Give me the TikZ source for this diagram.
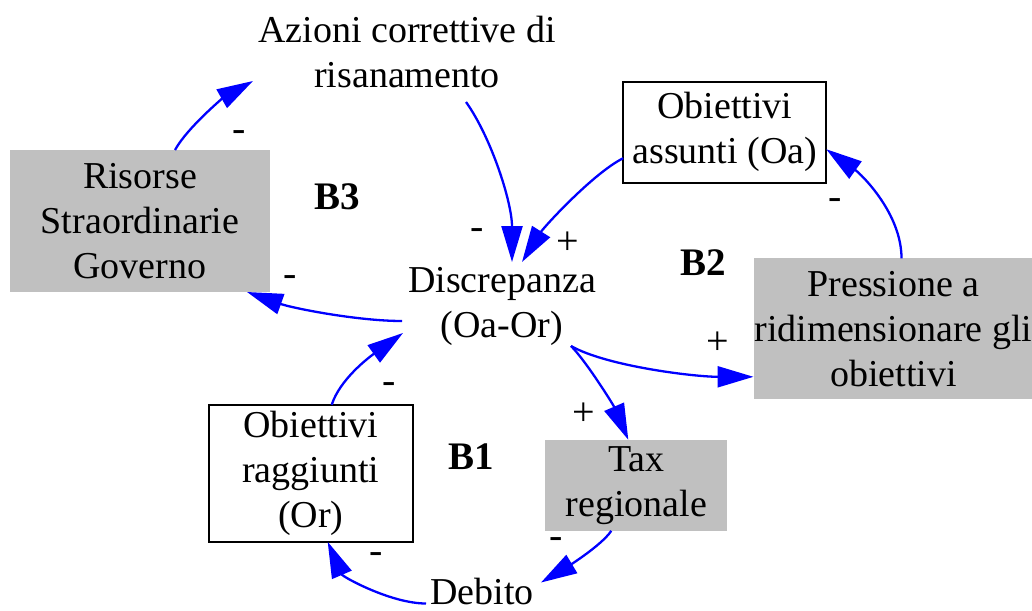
\documentclass[tikz,border=0pt]{standalone}
\usepackage{fontspec}
\setmainfont{Liberation Serif}
\usetikzlibrary{arrows.meta,calc}
\definecolor{boxgray}{HTML}{C0C0C0}
\begin{document}
\begin{tikzpicture}[x=1pt,y=-1pt,
  every node/.style={inner sep=0pt,outer sep=0pt},
  lbl/.style={font=\fontsize{38}{45}\selectfont,align=center},
  varbox/.style={lbl,draw=black,line width=1.8pt},
  auxbox/.style={lbl,fill=boxgray},
  link/.style={draw=blue,line width=2.3pt,-{Triangle[length=36pt,width=21pt]}},
  pol/.style={font=\fontsize{40}{45}\selectfont,anchor=base},
  loopname/.style={font=\fontsize{39}{45}\selectfont\bfseries}]
\useasboundingbox (0,0) rectangle (1032,610);

% variables
\node[lbl] (azioni) at (407,52.5) {Azioni correttive di\\risanamento};
\node[auxbox,minimum width=260pt,minimum height=142pt] (risorse) at (140,221) {Risorse\\Straordinarie\\Governo};
\node[lbl] (disc) at (502,306) {Discrepanza\\(Oa-Or)};
\node[varbox,minimum width=203pt,minimum height=101pt] (assunti) at (724.7,132.2) {Obiettivi\\assunti (Oa)};
\node[auxbox,minimum width=280pt,minimum height=141pt] (pressione) at (893.5,328.8) {Pressione a\\ridimensionare gli\\obiettivi};
\node[varbox,minimum width=204pt,minimum height=137pt] (raggiunti) at (310.7,473.3) {Obiettivi\\raggiunti\\(Or)};
\node[auxbox,minimum width=182pt,minimum height=91pt] (tax) at (636.3,485.3) {Tax\\regionale};
\node[lbl] (debito) at (482,591) {Debito};

% loop names
\node[loopname] (b3) at (337,197) {B3};
\node[loopname] (b2) at (703,263) {B2};
\node[loopname] (b1) at (471,457) {B1};

% causal links
\draw[link] ($(risorse.north)+(35,0)$) .. controls +(12,-22) and +(-30,17) .. ($(azioni.center)+(-154,28.5)$);
\draw[link] ($(azioni.center)+(59,49.5)$) .. controls +(25,35) and +(0,-60) .. ($(disc.center)+(10,-44)$);
\draw[link] ($(assunti.west)+(0,26)$) .. controls +(-30,15) and +(22,-35) .. ($(disc.center)+(20,-44)$);
\draw[link] ($(pressione.north)+(8,0)$) .. controls +(0,-45) and +(35,25) .. ($(assunti.east)+(0,17)$);
\draw[link] ($(disc.center)+(69,40)$) .. controls +(35,20) and +(-60,0) .. ($(pressione.west)+(0,48)$);
\draw[link] ($(disc.center)+(69,40)$) .. controls +(15,15) and +(-15,-35) .. ($(tax.north)+(-8,0)$);
\draw[link] ($(tax.south)+(-25,0)$) .. controls +(-10,15) and +(25,-15) .. ($(debito.center)+(59,-8.5)$);
\draw[link] ($(debito.center)+(-56,12.5)$) .. controls +(-35,0) and +(15,35) .. ($(raggiunti.south)+(17,0)$);
\draw[link] ($(raggiunti.north)+(21,0)$) .. controls +(8,-25) and +(-35,25) .. ($(disc.center)+(-99,27)$);
\draw[link] ($(disc.center)+(-100,15)$) .. controls +(-45,0) and +(45,16) .. ($(risorse.south east)+(-23,0)$);

% link polarities
\node[pol] (p1) at (239,141) {-};
\node[pol] (p2) at (477,239) {-};
\node[pol] (p3) at (568,254) {+};
\node[pol] (p4) at (835,209) {-};
\node[pol] (p5) at (718,354) {+};
\node[pol] (p6) at (584,425) {+};
\node[pol] (p7) at (556,548) {-};
\node[pol] (p8) at (376,563) {-};
\node[pol] (p9) at (389,393) {-};
\node[pol] (p10) at (290,286) {-};
\end{tikzpicture}
\end{document}
